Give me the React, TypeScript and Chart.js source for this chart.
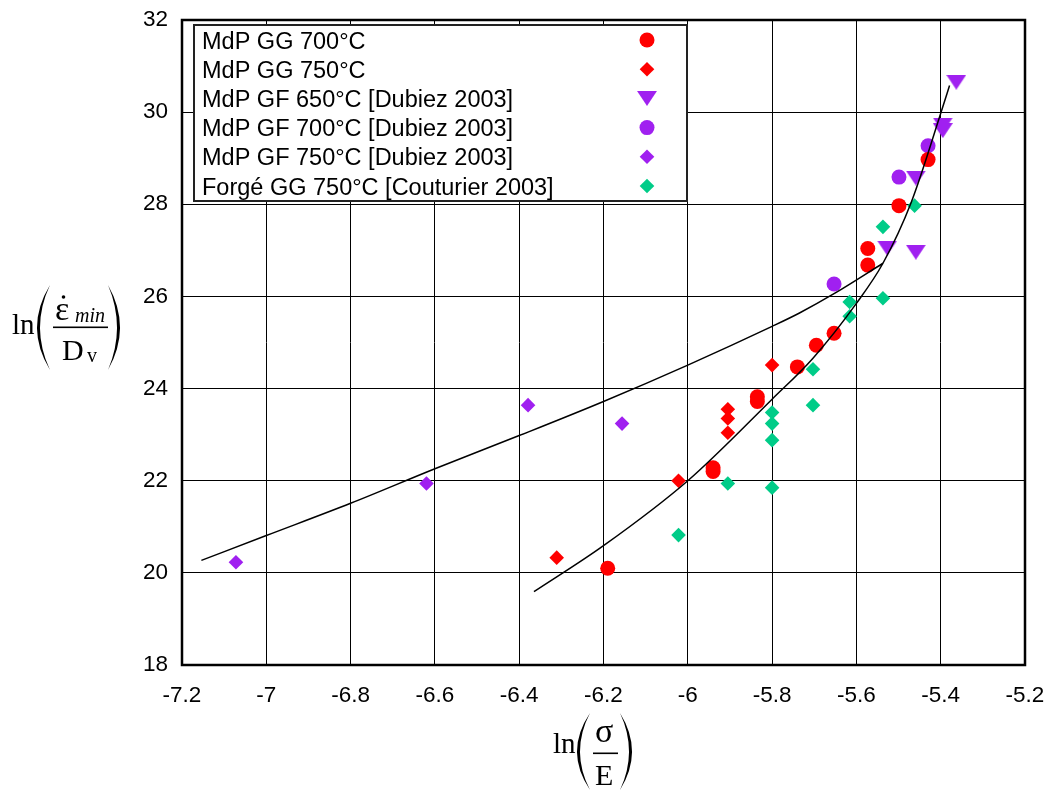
import React, { useEffect, useRef } from "react";
import { Chart, registerables } from "chart.js";

Chart.register(...registerables);

// ---- Axis ticks ----
const X_TICKS = [-7.2, -7, -6.8, -6.6, -6.4, -6.2, -6, -5.8, -5.6, -5.4, -5.2];
const Y_TICKS = [18, 20, 22, 24, 26, 28, 30, 32];

// ---- Series labels ----
const LEGEND_LABELS = [
  "MdP GG 700°C",
  "MdP GG 750°C",
  "MdP GF 650°C [Dubiez 2003]",
  "MdP GF 700°C [Dubiez 2003]",
  "MdP GF 750°C [Dubiez 2003]",
  "Forgé GG 750°C [Couturier 2003]",
];

// ---- Series values (ln(sigma/E), ln(eps_min/Dv)) ----
const mdpGG700 = [
  { x: -6.19, y: 20.1 },
  { x: -5.94, y: 22.2 },
  { x: -5.94, y: 22.28 },
  { x: -5.835, y: 23.72 },
  { x: -5.835, y: 23.82 },
  { x: -5.74, y: 24.47 },
  { x: -5.695, y: 24.94 },
  { x: -5.653, y: 25.2 },
  { x: -5.573, y: 26.68 },
  { x: -5.573, y: 27.04 },
  { x: -5.499, y: 27.97 },
  { x: -5.43, y: 28.97 },
];

const mdpGG750 = [
  { x: -6.311, y: 20.33 },
  { x: -6.022, y: 22.0 },
  { x: -5.905, y: 23.04 },
  { x: -5.905, y: 23.35 },
  { x: -5.905, y: 23.55 },
  { x: -5.8, y: 24.51 },
];

const mdpGF650 = [
  { x: -5.363, y: 30.65 },
  { x: -5.395, y: 29.72 },
  { x: -5.395, y: 29.6 },
  { x: -5.459, y: 28.57 },
  { x: -5.527, y: 27.05 },
  { x: -5.459, y: 26.96 },
];

const mdpGF700 = [
  { x: -5.653, y: 26.27 },
  { x: -5.499, y: 28.59 },
  { x: -5.43, y: 29.27 },
];

const mdpGF750 = [
  { x: -7.072, y: 20.23 },
  { x: -6.62, y: 21.94 },
  { x: -6.379, y: 23.64 },
  { x: -6.156, y: 23.24 },
];

const forgeGG750 = [
  { x: -6.022, y: 20.82 },
  { x: -5.905, y: 21.94 },
  { x: -5.8, y: 21.85 },
  { x: -5.8, y: 22.88 },
  { x: -5.8, y: 23.24 },
  { x: -5.8, y: 23.48 },
  { x: -5.703, y: 23.64 },
  { x: -5.703, y: 24.42 },
  { x: -5.616, y: 25.57 },
  { x: -5.616, y: 25.88 },
  { x: -5.537, y: 25.96 },
  { x: -5.537, y: 27.51 },
  { x: -5.462, y: 27.97 },
];

// ---- Fitted curves ----
const fitCurve1 = [
  { x: -7.154, y: 20.27 },
  { x: -7.0, y: 20.81 },
  { x: -6.8, y: 21.51 },
  { x: -6.6, y: 22.26 },
  { x: -6.4, y: 22.98 },
  { x: -6.2, y: 23.72 },
  { x: -6.0, y: 24.51 },
  { x: -5.8, y: 25.35 },
  { x: -5.735, y: 25.64 },
  { x: -5.651, y: 26.07 },
  { x: -5.537, y: 26.72 },
];

const fitCurve2 = [
  { x: -6.365, y: 19.59 },
  { x: -6.2, y: 20.59 },
  { x: -6.0, y: 22.0 },
  { x: -5.8, y: 23.77 },
  { x: -5.703, y: 24.66 },
  { x: -5.6, y: 25.85 },
  { x: -5.537, y: 26.72 },
  { x: -5.47, y: 28.04 },
  { x: -5.398, y: 30.03 },
  { x: -5.379, y: 30.58 },
];

const RED = "#ff0000";
const PURPLE = "#a020f0";
const GREEN = "#00cc88";

const SANS = '"Liberation Sans", Arial, sans-serif';
const SERIF = '"Liberation Serif", "Times New Roman", serif';

function makeTriangle(color: string, w: number, h: number) {
  const c = document.createElement("canvas");
  c.width = w;
  c.height = h;
  const g = c.getContext("2d")!;
  g.fillStyle = color;
  g.beginPath();
  g.moveTo(0, 0);
  g.lineTo(w, 0);
  g.lineTo(w / 2, h);
  g.closePath();
  g.fill();
  return c;
}

function drawParen(ctx: CanvasRenderingContext2D, xe: number, xOuter: number, thick: number, top: number, bottom: number) {
  const mid = (top + bottom) / 2;
  const dir = xOuter < xe ? 1 : -1;
  const cOuter = 2 * xOuter - xe;
  const cInner = 2 * (xOuter + dir * thick) - xe;
  ctx.beginPath();
  ctx.moveTo(xe, top);
  ctx.quadraticCurveTo(cOuter, mid, xe, bottom);
  ctx.quadraticCurveTo(cInner, mid, xe, top);
  ctx.closePath();
  ctx.fill();
}

function drawMarker(ctx: CanvasRenderingContext2D, kind: string, x: number, y: number, color: string, tri: HTMLCanvasElement) {
  ctx.fillStyle = color;
  if (kind === "circle") {
    ctx.beginPath();
    ctx.arc(x, y, 7.5, 0, Math.PI * 2);
    ctx.fill();
  } else if (kind === "diamond") {
    const r = 7.3;
    ctx.beginPath();
    ctx.moveTo(x, y - r);
    ctx.lineTo(x + r, y);
    ctx.lineTo(x, y + r);
    ctx.lineTo(x - r, y);
    ctx.closePath();
    ctx.fill();
  } else {
    ctx.drawImage(tri, x - tri.width / 2, y - tri.height / 2);
  }
}

export default function App() {
  const ref = useRef<HTMLCanvasElement>(null);

  useEffect(() => {
    document.body.style.margin = "0";
    const canvas = ref.current!;
    const tri = makeTriangle(PURPLE, 20, 15);

    const legendKinds = ["circle", "diamond", "tri", "circle", "diamond", "diamond"];
    const legendColors = [RED, RED, PURPLE, PURPLE, PURPLE, GREEN];

    const decorPlugin = {
      id: "decor",
      afterDraw(chart: any) {
        const ctx: CanvasRenderingContext2D = chart.ctx;
        const a = chart.chartArea;
        ctx.save();
        // plot frame
        ctx.strokeStyle = "#000";
        ctx.lineWidth = 2.5;
        ctx.strokeRect(a.left, a.top, a.right - a.left, a.bottom - a.top);

        // legend box
        const lx = 194, ly = 25, lw = 493, lh = 176;
        ctx.fillStyle = "#fff";
        ctx.fillRect(lx, ly, lw, lh);
        ctx.strokeStyle = "#222";
        ctx.lineWidth = 2;
        ctx.strokeRect(lx, ly, lw, lh);
        ctx.font = `23.5px ${SANS}`;
        ctx.textAlign = "left";
        ctx.textBaseline = "alphabetic";
        for (let i = 0; i < LEGEND_LABELS.length; i++) {
          const cy = 40 + i * 29.2;
          ctx.fillStyle = "#000";
          ctx.fillText(LEGEND_LABELS[i], 202, cy + 8.5);
          drawMarker(ctx, legendKinds[i], 647, cy, legendColors[i], tri);
        }

        // y axis title: ln( eps_dot_min / D_v )
        ctx.fillStyle = "#000";
        ctx.font = `29px ${SERIF}`;
        ctx.fillText("ln", 12, 334);
        drawParen(ctx, 50, 37, 3, 285, 370);
        drawParen(ctx, 108, 120, 3, 285, 370);
        ctx.font = `34px ${SERIF}`;
        ctx.fillText("ε", 55, 320);
        ctx.beginPath();
        ctx.arc(63.5, 297, 1.8, 0, Math.PI * 2);
        ctx.fill();
        ctx.font = `italic 20px ${SERIF}`;
        ctx.fillText("min", 75, 322);
        ctx.fillRect(53, 326.5, 55, 1.6);
        ctx.font = `30px ${SERIF}`;
        ctx.fillText("D", 62, 360);
        ctx.font = `20px ${SERIF}`;
        ctx.fillText("v", 87, 362);

        // x axis title: ln( sigma / E )
        ctx.font = `29px ${SERIF}`;
        ctx.fillText("ln", 553, 753);
        drawParen(ctx, 590, 577, 3, 713, 790);
        drawParen(ctx, 620, 632, 3, 713, 790);
        ctx.font = `34px ${SERIF}`;
        ctx.fillText("σ", 595, 742);
        ctx.fillRect(593, 752.5, 25, 1.6);
        ctx.font = `30px ${SERIF}`;
        ctx.fillText("E", 595, 785);
        ctx.restore();
      },
    };

    const pointDs = (label: string, data: any[], style: any, radius: number, color: string) => ({
      label,
      data,
      showLine: false,
      pointStyle: style,
      pointRadius: radius,
      pointHoverRadius: radius,
      pointBackgroundColor: color,
      pointBorderColor: color,
      pointBorderWidth: 0,
      backgroundColor: color,
      borderColor: color,
    });

    const lineDs = (label: string, data: any[]) => ({
      label,
      data,
      showLine: true,
      pointRadius: 0,
      pointHoverRadius: 0,
      borderColor: "#000",
      borderWidth: 1.5,
      fill: false,
      cubicInterpolationMode: "monotone" as const,
    });

    const chart = new Chart(canvas, {
      type: "scatter",
      data: {
        datasets: [
          lineDs("fit 1", fitCurve1),
          lineDs("fit 2", fitCurve2),
          pointDs(LEGEND_LABELS[0], mdpGG700, "circle", 7.5, RED),
          pointDs(LEGEND_LABELS[1], mdpGG750, "rectRot", 7.3, RED),
          pointDs(LEGEND_LABELS[2], mdpGF650, tri, 10, PURPLE),
          pointDs(LEGEND_LABELS[3], mdpGF700, "circle", 7.5, PURPLE),
          pointDs(LEGEND_LABELS[4], mdpGF750, "rectRot", 7.3, PURPLE),
          pointDs(LEGEND_LABELS[5], forgeGG750, "rectRot", 7.3, GREEN),
        ] as any,
      },
      options: {
        responsive: false,
        animation: false,
        devicePixelRatio: 1,
        layout: { padding: { top: 20, right: 26, left: 0, bottom: 0 } },
        plugins: { legend: { display: false }, tooltip: { enabled: false } },
        scales: {
          x: {
            type: "linear",
            min: -7.2,
            max: -5.2,
            afterFit: (s: any) => {
              s.height = 126;
              s.paddingLeft = 0;
              s.paddingRight = 0;
            },
            afterBuildTicks: (s: any) => {
              s.ticks = X_TICKS.map((v) => ({ value: v }));
            },
            ticks: {
              callback: (v: any) => String(Math.round(Number(v) * 10) / 10),
              color: "#000",
              font: { family: SANS, size: 22.5 },
              padding: 17,
              maxRotation: 0,
              autoSkip: false,
            },
            grid: { color: "#000", lineWidth: 1, drawTicks: false },
            border: { display: false },
          },
          y: {
            type: "linear",
            min: 18,
            max: 32,
            afterFit: (s: any) => {
              s.width = 182;
              s.paddingTop = 0;
              s.paddingBottom = 0;
            },
            afterBuildTicks: (s: any) => {
              s.ticks = Y_TICKS.map((v) => ({ value: v }));
            },
            ticks: {
              callback: (v: any) => String(v),
              color: "#000",
              font: { family: SANS, size: 22.5 },
              padding: 14,
              autoSkip: false,
            },
            grid: { color: "#000", lineWidth: 1, drawTicks: false },
            border: { display: false },
          },
        },
      } as any,
      plugins: [decorPlugin],
    });

    return () => chart.destroy();
  }, []);

  return (
    <div style={{ position: "absolute", left: 0, top: 0, width: 1051, height: 791, overflow: "hidden" }}>
      <canvas ref={ref} width={1051} height={791} style={{ display: "block", width: 1051, height: 791 }} />
    </div>
  );
}
